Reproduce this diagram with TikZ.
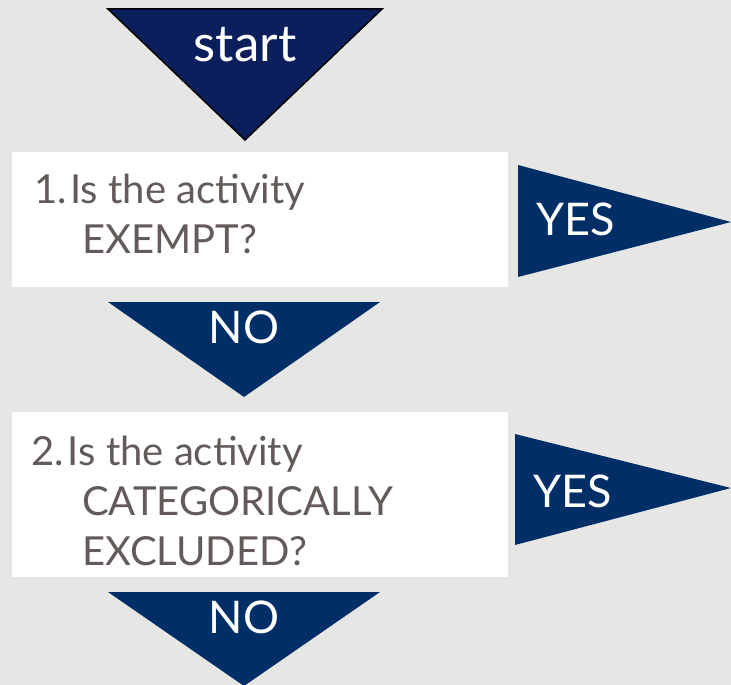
\documentclass[tikz,border=0pt]{standalone}
\usepackage{fontspec}
\setmainfont{Lato}
\definecolor{bggray}{RGB}{230,230,229}
\definecolor{startnavy}{RGB}{10,31,92}
\definecolor{arrownavy}{RGB}{0,47,104}
\definecolor{qgray}{RGB}{99,91,89}
\tikzset{
  qbox/.style={fill=white, draw=none},
  navyarrow/.style={fill=arrownavy, draw=none},
  qtext/.style={text=qgray, inner sep=0pt, font=\fontsize{40}{50}\selectfont},
  lbltext/.style={text=white, inner sep=0pt, font=\fontsize{45}{50}\selectfont},
}
\begin{document}
\begin{tikzpicture}[x=1pt,y=-1pt]
\fill[bggray] (0,0) rectangle (731,685);
\useasboundingbox (0,0) rectangle (731,685);

% start triangle
\coordinate (s1) at (108,9);
\coordinate (s2) at (382,9);
\coordinate (s3) at (245,140);
\filldraw[fill=startnavy, draw=black, line width=1.5pt, line join=miter] (s1) -- (s2) -- (s3) -- cycle;
\node[text=white, inner sep=0pt, anchor=base, font=\fontsize{51}{55}\selectfont] (start) at (245,62) {start};

% box 1
\node[qbox, minimum width=496pt, minimum height=135pt, anchor=north west, inner sep=0pt] (box1) at (12,152) {};
\node[qtext, anchor=base west] (q1a) at (34,203) {1.\hspace{3.5pt}Is the activity};
\node[qtext, anchor=base west] (q1b) at (82,253) {EXEMPT?};

% yes 1
\coordinate (y1a) at (518,165);
\coordinate (y1b) at (518,277);
\coordinate (y1c) at (731,222);
\fill[navyarrow] (y1a) -- (y1c) -- (y1b) -- cycle;
\node[lbltext, anchor=base west] (yes1) at (536,235) {YES};

% no 1
\coordinate (n1a) at (108,302);
\coordinate (n1b) at (380,302);
\coordinate (n1c) at (244,397);
\fill[navyarrow] (n1a) -- (n1b) -- (n1c) -- cycle;
\node[lbltext, anchor=base] (no1) at (244,343) {NO};

% box 2
\node[qbox, minimum width=496pt, minimum height=165pt, anchor=north west, inner sep=0pt] (box2) at (12,412) {};
\node[qtext, anchor=base west] (q2a) at (31,465) {2.\hspace{4pt}Is the activity};
\node[qtext, anchor=base west] (q2b) at (82,515) {CATEGORICALLY};
\node[qtext, anchor=base west] (q2c) at (82,565) {EXCLUDED?};

% yes 2
\coordinate (y2a) at (515,434);
\coordinate (y2b) at (515,545);
\coordinate (y2c) at (731,488);
\fill[navyarrow] (y2a) -- (y2c) -- (y2b) -- cycle;
\node[lbltext, anchor=base west] (yes2) at (533,507) {YES};

% no 2
\coordinate (n2a) at (108,592);
\coordinate (n2b) at (380,592);
\coordinate (n2c) at (244,686);
\fill[navyarrow] (n2a) -- (n2b) -- (n2c) -- cycle;
\node[lbltext, anchor=base] (no2) at (244,633) {NO};
\end{tikzpicture}
\end{document}
